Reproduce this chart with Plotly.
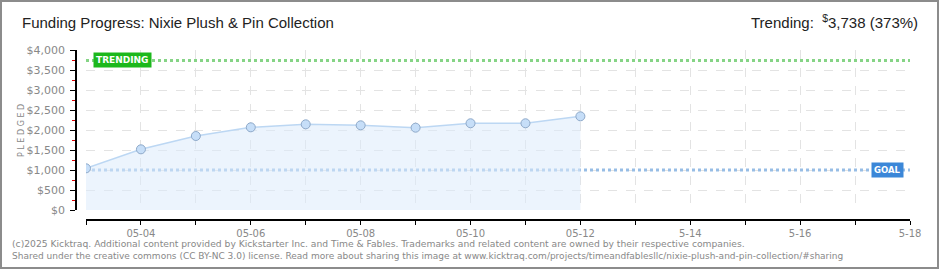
import plotly.graph_objects as go

# ---- data ----
dates = ["2025-05-03", "2025-05-04", "2025-05-05", "2025-05-06", "2025-05-07",
         "2025-05-08", "2025-05-09", "2025-05-10", "2025-05-11", "2025-05-12"]
pledged = [1042, 1517, 1850, 2067, 2142, 2117, 2058, 2168, 2168, 2342]
goal = 1000
trending = 3738
trending_pct = 373
x_start, x_end = "2025-05-03", "2025-05-18"
xtick_vals = ["2025-05-04", "2025-05-06", "2025-05-08", "2025-05-10",
              "2025-05-12", "2025-05-14", "2025-05-16", "2025-05-18"]
xtick_text = ["05-04", "05-06", "05-08", "05-10", "05-12", "5-14", "5-16", "5-18"]
title = "Funding Progress: Nixie Plush & Pin Collection"
footer1 = ("(c)2025 Kicktraq. Additional content provided by Kickstarter Inc. and Time & Fables. "
           "Trademarks and related content are owned by their respective companies.")
footer2 = ("Shared under the creative commons (CC BY-NC 3.0) license. Read more about sharing this image at "
           "www.kicktraq.com/projects/timeandfablesllc/nixie-plush-and-pin-collection/#sharing")

W, H = 940, 270
ML, MR, MT, MB = 76, 30, 50, 50
PW, PH = W - ML - MR, H - MT - MB


def px(x):
    return (x - ML) / PW


def py(y):
    return (H - MB - y) / PH


fig = go.Figure()

# trending and goal lines
fig.add_trace(go.Scatter(x=[x_start, x_end], y=[trending, trending], mode="lines",
                         line=dict(color="#86d486", width=3, dash="dot"),
                         hoverinfo="skip", showlegend=False))
fig.add_trace(go.Scatter(x=[x_start, x_end], y=[goal, goal], mode="lines",
                         line=dict(color="#97bde5", width=3, dash="dot"),
                         hoverinfo="skip", showlegend=False))

# pledged area
fig.add_trace(go.Scatter(x=dates, y=pledged, mode="lines+markers", fill="tozeroy",
                         fillcolor="rgba(221,235,251,0.55)",
                         line=dict(color="#bcd7f3", width=1.5),
                         marker=dict(size=9, color="#c6def8", line=dict(color="#8ea9c9", width=1)),
                         showlegend=False))

grid = "#e3e3e3"
fig.update_layout(
    width=W, height=H,
    margin=dict(l=ML, r=MR, t=MT, b=MB),
    paper_bgcolor="white", plot_bgcolor="white",
    font=dict(family="DejaVu Sans", color="#888888"),
    xaxis=dict(
        type="date", range=[x_start, x_end], domain=[px(86), 1],
        anchor="free", position=0,
        tickmode="array", tickvals=xtick_vals, ticktext=xtick_text,
        tickfont=dict(size=10, color="#888888"),
        showline=True, linecolor="black", linewidth=1.5,
        ticks="outside", ticklen=4, tickcolor="black", tickwidth=1,
        showgrid=True, gridcolor=grid, griddash="dash", gridwidth=1,
        minor=dict(dtick=86400000, tick0=x_start, ticks="outside", ticklen=4,
                   tickcolor="black", showgrid=True, gridcolor=grid, griddash="dash"),
        zeroline=False,
    ),
    yaxis=dict(
        range=[0, 4000], domain=[py(210), 1],
        anchor="free", position=0,
        dtick=500, tickprefix="$", tickformat=",",
        tickfont=dict(size=11, color="#888888"),
        showline=True, linecolor="black", linewidth=1.5,
        ticks="outside", ticklen=5, tickcolor="black",
        minor=dict(dtick=250, ticks="outside", ticklen=3, tickcolor="#e00000"),
        showgrid=True, gridcolor=grid, griddash="dash",
        zeroline=False,
        ticklabelstandoff=3,
    ),
    showlegend=False,
)

anns = [
    dict(xref="paper", yref="paper", x=px(20), y=py(23), xanchor="left", yanchor="middle",
         text=title, showarrow=False,
         font=dict(family="Liberation Sans, Arial, sans-serif", size=15, color="#222222")),
    dict(xref="paper", yref="paper", x=px(920), y=py(22), xanchor="right", yanchor="middle",
         text=f"Trending:  <sup>$</sup>{trending:,} ({trending_pct}%)", showarrow=False,
         font=dict(family="Liberation Sans, Arial, sans-serif", size=15, color="#222222")),
    dict(xref="paper", yref="paper", x=px(21), y=py(130), xanchor="center", yanchor="middle",
         text="P L E D G E D", textangle=-90, showarrow=False,
         font=dict(size=8, color="#888888")),
    dict(xref="x", yref="y", x=x_start, y=trending, xanchor="left", yanchor="middle",
         xshift=7, text="<b>TRENDING</b>", showarrow=False,
         bgcolor="#1cb81c", borderpad=2, font=dict(size=9, color="white")),
    dict(xref="paper", yref="y", x=px(904), y=goal, xanchor="right", yanchor="middle",
         text="<b>GOAL</b>", showarrow=False,
         bgcolor="#3b87d8", borderpad=2, font=dict(size=8.5, color="white")),
    dict(xref="paper", yref="paper", x=px(10), y=py(243), xanchor="left", yanchor="middle",
         text=footer1, showarrow=False, font=dict(size=9.2, color="#888888")),
    dict(xref="paper", yref="paper", x=px(10), y=py(256), xanchor="left", yanchor="middle",
         text=footer2, showarrow=False, font=dict(size=9, color="#888888")),
]
fig.update_layout(annotations=anns)

# outer border
fig.add_shape(type="rect", xref="paper", yref="paper",
              x0=px(1), x1=px(938), y0=py(268), y1=py(1),
              line=dict(color="#8c8c8c", width=2), fillcolor="rgba(0,0,0,0)", layer="above")

fig.write_html("out.html")
